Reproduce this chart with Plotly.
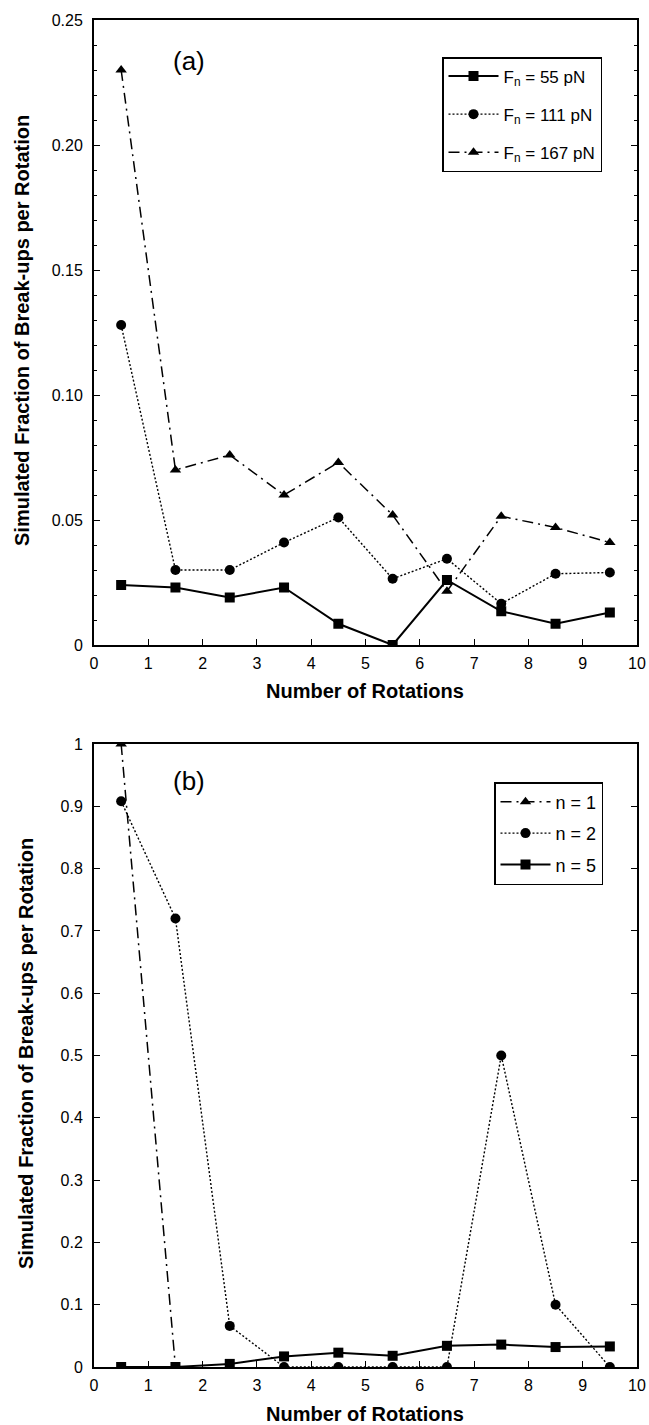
import plotly.graph_objects as go

# ---- data ----
rotations = [0.5, 1.5, 2.5, 3.5, 4.5, 5.5, 6.5, 7.5, 8.5, 9.5]

# panel (a)
fn55 = [0.024, 0.023, 0.019, 0.023, 0.0085, 0.0, 0.026, 0.0135, 0.0085, 0.013]
fn111 = [0.128, 0.030, 0.030, 0.041, 0.051, 0.0265, 0.0345, 0.0165, 0.0285, 0.029]
fn167 = [0.230, 0.070, 0.076, 0.060, 0.073, 0.052, 0.0215, 0.0515, 0.047, 0.041]

# panel (b)
rot_n1 = [0.5, 1.5]
n1 = [1.0, 0.0]
n2 = [0.908, 0.72, 0.066, 0.0, 0.0, 0.0, 0.0, 0.5, 0.1, 0.0]
n5 = [0.0, 0.0, 0.005, 0.017, 0.023, 0.018, 0.034, 0.036, 0.032, 0.033]

ya_ticks = [0, 0.05, 0.10, 0.15, 0.20, 0.25]
ya_text = ["0", "0.05", "0.10", "0.15", "0.20", "0.25"]
yb_ticks = [0, 0.1, 0.2, 0.3, 0.4, 0.5, 0.6, 0.7, 0.8, 0.9, 1.0]
yb_text = ["0", "0.1", "0.2", "0.3", "0.4", "0.5", "0.6", "0.7", "0.8", "0.9", "1"]
x_ticks = list(range(0, 11))

W, H = 649, 1425
FONT = "Liberation Sans, Arial, Helvetica, sans-serif"

def px(v):
    return v / W

def py(v):
    return 1 - v / H

fig = go.Figure()

def add(x, y, name, dash, symbol, size, width, xa, ya, legend):
    fig.add_trace(go.Scatter(
        x=x, y=y, name=name, mode="lines+markers",
        line=dict(color="black", width=width, dash=dash),
        marker=dict(symbol=symbol, size=size, color="black"),
        xaxis=xa, yaxis=ya, legend=legend, legendgroup=name,
    ))

DASHDOT = "11px,5px,2px,5px"
DOT = "2px,2px"
add(rotations, fn55, "F<sub>n</sub> = 55 pN", "solid", "square", 10, 2, "x", "y", "legend")
add(rotations, fn111, "F<sub>n</sub> = 111 pN", DOT, "circle", 10, 1.4, "x", "y", "legend")
add(rotations, fn167, "F<sub>n</sub> = 167 pN", DASHDOT, "triangle-up", 10, 1.5, "x", "y", "legend")

add(rot_n1, n1, "n = 1", DASHDOT, "triangle-up", 10, 1.5, "x2", "y2", "legend2")
add(rotations, n2, "n = 2", DOT, "circle", 10, 1.4, "x2", "y2", "legend2")
add(rotations, n5, "n = 5", "solid", "square", 10, 2, "x2", "y2", "legend2")

xdom = [px(94), px(637)]
ya_dom = [py(645), py(20)]
yb_dom = [py(1367), py(744)]

tickfont = dict(family=FONT, size=16, color="black")

def xaxis(anchor):
    return dict(domain=xdom, range=[0, 10], tickvals=x_ticks, ticks="inside", ticklen=6,
                tickwidth=1.3, tickcolor="black", showline=True, linecolor="black",
                linewidth=2, mirror=True, showgrid=False, zeroline=False,
                tickfont=tickfont, anchor=anchor, ticklabelstandoff=3, automargin=False)

def yaxis(dom, rng, tv, tt, minor_dt, anchor):
    d = dict(domain=dom, range=rng, tickvals=tv, ticktext=tt, ticks="inside", ticklen=6,
             tickwidth=1.3, tickcolor="black", showline=True, linecolor="black",
             linewidth=2, mirror="ticks", showgrid=False, zeroline=False,
             tickfont=tickfont, anchor=anchor, ticklabelstandoff=6, automargin=False)
    if minor_dt:
        d["minor"] = dict(dtick=minor_dt, ticks="inside", ticklen=3, tickcolor="black",
                          tickwidth=1, showgrid=False)
    return d

legend_common = dict(bgcolor="white", bordercolor="black", borderwidth=1.5,
                     xanchor="right", yanchor="top", traceorder="grouped")

fig.update_layout(
    width=W, height=H,
    margin=dict(l=0, r=0, t=0, b=0),
    paper_bgcolor="white", plot_bgcolor="white",
    showlegend=True,
    xaxis=xaxis("y"),
    yaxis=yaxis(ya_dom, [0, 0.25], ya_ticks, ya_text, 0.01, "x"),
    xaxis2=xaxis("y2"),
    yaxis2=yaxis(yb_dom, [0, 1.0], yb_ticks, yb_text, None, "x2"),
    legend=dict(x=px(602), y=py(57), tracegroupgap=13, itemwidth=50,
                font=dict(family=FONT, size=17, color="black"), **legend_common),
    legend2=dict(x=px(603), y=py(782), tracegroupgap=5, itemwidth=50,
                 font=dict(family=FONT, size=18, color="black"), **legend_common),
)

title_font = dict(family=FONT, size=20, color="black")
annots = [
    dict(x=px(365), y=py(691), text="<b>Number of Rotations</b>"),
    dict(x=px(365), y=py(1414), text="<b>Number of Rotations</b>"),
    dict(x=px(22), y=py(331), text="<b>Simulated Fraction of Break-ups per Rotation</b>", textangle=-90),
    dict(x=px(26), y=py(1054), text="<b>Simulated Fraction of Break-ups per Rotation</b>", textangle=-90),
]
for a in annots:
    fig.add_annotation(xref="paper", yref="paper", showarrow=False,
                       xanchor="center", yanchor="middle", font=title_font, **a)

fig.add_annotation(x=1.75, y=0.2335, xref="x", yref="y", text="(a)", showarrow=False,
                   font=dict(family=FONT, size=26, color="black"))
fig.add_annotation(x=1.75, y=0.94, xref="x2", yref="y2", text="(b)", showarrow=False,
                   font=dict(family=FONT, size=26, color="black"))

fig.write_html(
    "out.html",
    config={"displayModeBar": False},
    post_script="document.body.style.margin='0px';document.body.style.overflow='hidden';",
)
